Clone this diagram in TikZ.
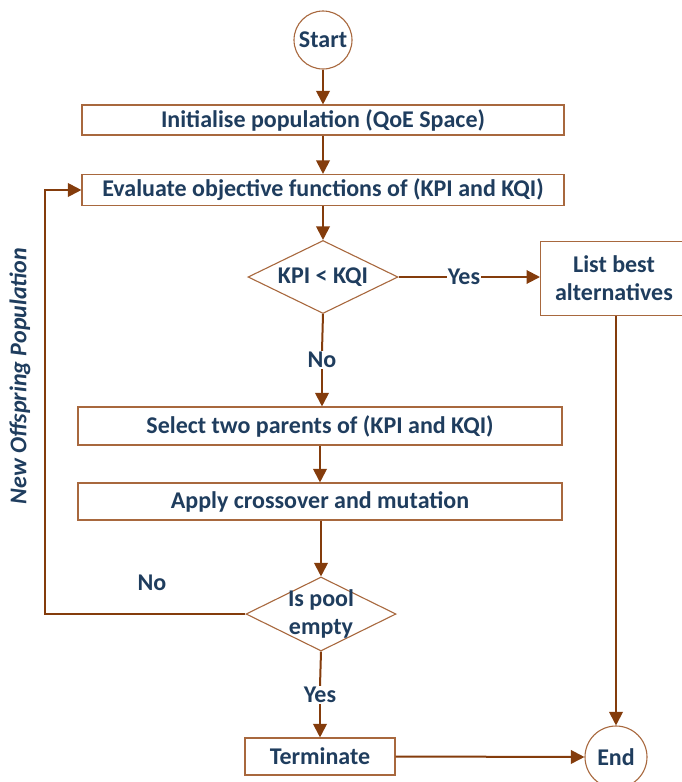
\documentclass[tikz,border=0pt]{standalone}
\usepackage{fontspec}
\setmainfont{Carlito}
\usetikzlibrary{arrows.meta,shapes.geometric}
\definecolor{lineb}{HTML}{843C0C}
\definecolor{boxb}{HTML}{A8683E}
\definecolor{txt}{HTML}{1F3D5E}
\newcommand{\fsz}{\bfseries\fontsize{24}{28.5}\selectfont}
\tikzset{
  conn/.style={draw=lineb,line width=2pt,-{Triangle[length=13.5pt,width=13.5pt]}},
  plain/.style={draw=lineb,line width=2pt},
  stepbox/.style={draw=boxb,line width=1.1pt,fill=white,inner sep=0pt,font=\fsz,text=txt,align=center},
  termbox/.style={draw=boxb,line width=1.1pt,fill=white,circle,inner sep=0pt,font=\fsz,text=txt},
  decbox/.style={draw=boxb,line width=1.1pt,fill=white,diamond,inner sep=0pt},
  lbl/.style={font=\fsz,text=txt,align=center,inner sep=1pt},
}
\begin{document}
\begin{tikzpicture}[x=1pt,y=-1pt]
\useasboundingbox (0,0) rectangle (681,782);
\node[termbox,minimum size=58pt] (start) at (323,40) {Start};
\node[stepbox,minimum width=482pt,minimum height=30pt] (init) at (323,120) {Initialise population (QoE Space)};
\node[stepbox,minimum width=482pt,minimum height=31pt] (eval) at (323,190) {Evaluate objective functions of (KPI and KQI)};
\node[decbox,minimum width=150pt,minimum height=73pt,label={[lbl,name=d1t]center:KPI < KQI}] (d1) at (323,277) {};
\node[stepbox,minimum width=145pt,minimum height=74pt,anchor=north west] (list) at (540,241) {};
\node[lbl] (listt) at (614,278) {List best\\alternatives};
\node[stepbox,minimum width=484pt,minimum height=38pt] (sel) at (320,426) {Select two parents of (KPI and KQI)};
\node[stepbox,minimum width=484pt,minimum height=37pt] (app) at (320,501.5) {Apply crossover and mutation};
\node[decbox,minimum width=150pt,minimum height=74pt,label={[lbl,name=d2t,align=center]center:Is pool\\empty}] (d2) at (321,614) {};
\node[stepbox,minimum width=150pt,minimum height=37pt] (term) at (320,756.5) {Terminate};
\node[termbox,minimum size=62pt] (end) at (616,757) {End};
\node[lbl] (yes1) at (464,277) {Yes};
\node[lbl] (no1) at (322,360) {No};
\node[lbl] (no2) at (152,583) {No};
\node[lbl] (yes2) at (320,695) {Yes};
\node[lbl,font=\bfseries\itshape\fontsize{24}{28}\selectfont,rotate=90] (newoff) at (20,376) {New Offspring Population};
\coordinate (lc) at (45,614);
\draw[conn] (start) -- (init);
\draw[conn] (init) -- (eval);
\draw[conn] (eval.south -| d1) -- (d1.north);
\draw[plain] (d1.east) -- (yes1.west);
\draw[conn] (yes1.east) -- (list.west |- d1);
\draw[plain] (d1.south) -- (no1.north);
\draw[conn] (no1.south) -- (sel.north -| no1);
\draw[conn] (sel) -- (app);
\draw[conn] (app.south -| d2) -- (d2.north);
\draw[plain] (d2.south) -- (yes2.north);
\draw[conn] (yes2.south) -- (term.north);
\draw[conn] (d2.west) -- (lc) |- (eval.west);
\draw[conn] (list.south -| end) -- (end.north);
\draw[conn] (term.east) -- (end.west);
\end{tikzpicture}
\end{document}
